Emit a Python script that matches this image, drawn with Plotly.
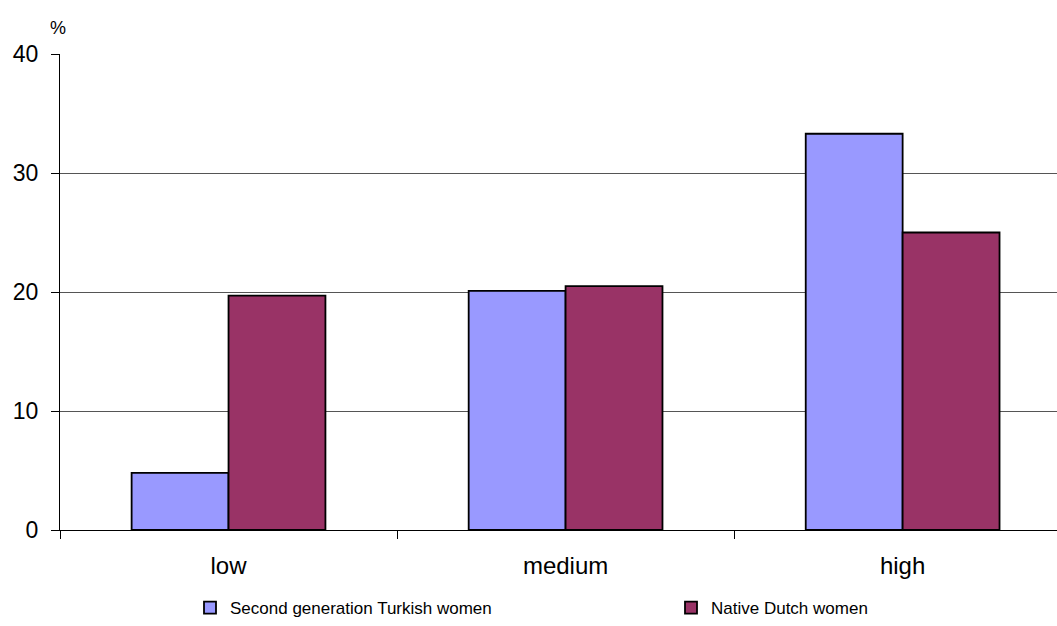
import plotly.graph_objects as go

categories = ["low", "medium", "high"]
turkish = [4.8, 20.1, 33.3]
dutch = [19.7, 20.5, 25.0]
series_names = ["Second generation Turkish women", "Native Dutch women"]
y_ticks = [0, 10, 20, 30, 40]

FONT = "Liberation Sans, Arial, sans-serif"

fig = go.Figure()
fig.add_trace(go.Bar(
    x=categories, y=turkish, name=series_names[0], legend="legend",
    marker=dict(color="#9999FF", line=dict(color="black", width=1.8)),
))
fig.add_trace(go.Bar(
    x=categories, y=dutch, name=series_names[1], legend="legend2",
    marker=dict(color="#993366", line=dict(color="black", width=1.8)),
))

legend_common = dict(
    orientation="h", xanchor="left", y=-0.126, yanchor="top",
    font=dict(family=FONT, size=17), itemwidth=30,
    bgcolor="rgba(0,0,0,0)",
)

fig.update_layout(
    width=1057, height=626,
    margin=dict(l=60, r=0, t=54, b=95),
    paper_bgcolor="white", plot_bgcolor="white",
    barmode="group", bargap=0.425, bargroupgap=0,
    font=dict(family=FONT, size=22, color="black"),
    showlegend=True,
    legend=dict(x=(190 - 60) / 997, **legend_common),
    legend2=dict(x=(671 - 60) / 997, **legend_common),
    xaxis=dict(
        type="category", range=[-0.5, 2.458],
        showline=True, linecolor="black", linewidth=1,
        ticks="outside", tickson="boundaries", ticklen=8, tickcolor="black",
        showgrid=False, tickfont=dict(size=24), ticklabelstandoff=14,
    ),
    yaxis=dict(
        range=[0, 40], tickvals=y_ticks,
        showline=True, linecolor="black", linewidth=1,
        ticks="outside", ticklen=8, tickcolor="black",
        showgrid=True, gridcolor="#555555", gridwidth=1,
        zeroline=False, tickfont=dict(size=23), ticklabelstandoff=8,
    ),
    annotations=[dict(
        text="%", xref="paper", yref="paper",
        x=(58 - 60) / 997, y=1 + (54 - 28) / 477,
        xanchor="center", yanchor="middle", showarrow=False,
        font=dict(size=18),
    )],
)

fig.write_html("out.html")
